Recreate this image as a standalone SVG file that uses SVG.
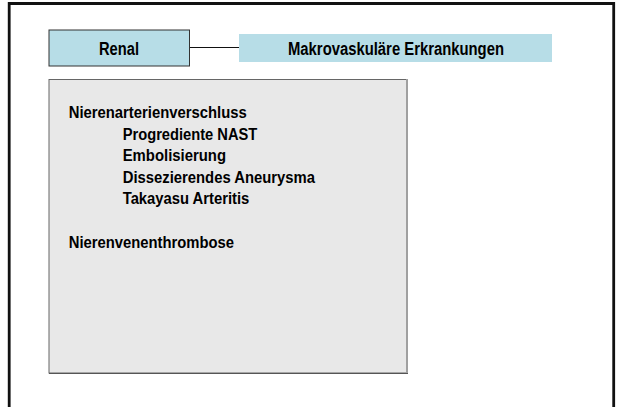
<svg xmlns="http://www.w3.org/2000/svg" width="619" height="407" viewBox="0 0 619 407">
<style>
.t{font-family:"Liberation Sans",Arial,sans-serif;font-weight:bold;fill:#000;}
.h{font-size:17.5px;}
.b{font-size:16px;}
.blue{fill:#b7dde7;}
</style>
<rect x="0" y="0" width="619" height="407" fill="#ffffff"/>
<g id="frame">
<path d="M9.2,410 V3.5 H613.7 V410" fill="none" stroke="#111" stroke-width="2.8"/>
</g>
<g id="connectors">
<line x1="190" y1="47.5" x2="239" y2="47.5" stroke="#111" stroke-width="1"/>
</g>
<g id="renal">
<rect class="blue" x="49" y="30" width="140.5" height="36" stroke="#333" stroke-width="1"/>
<text class="t h" x="119" y="55" text-anchor="middle" textLength="40" lengthAdjust="spacingAndGlyphs">Renal</text>
</g>
<g id="makro">
<rect class="blue" x="239" y="34" width="313" height="28"/>
<text class="t h" x="288" y="54.7" textLength="216" lengthAdjust="spacingAndGlyphs">Makrovaskuläre Erkrankungen</text>
</g>
<g id="liste">
<rect x="49" y="79.5" width="357.5" height="293.5" fill="#e8e8e8" stroke="#666" stroke-width="1"/>
<line x1="407" y1="79" x2="407" y2="373" stroke="#a0a0a0" stroke-width="2"/>
<line x1="49" y1="373.5" x2="408" y2="373.5" stroke="#555" stroke-width="1.2"/>
<text class="t b" x="68.7" y="118" textLength="178" lengthAdjust="spacingAndGlyphs">Nierenarterienverschluss</text>
<text class="t b" x="122.7" y="139.5" textLength="134.6" lengthAdjust="spacingAndGlyphs">Progrediente NAST</text>
<text class="t b" x="122.7" y="161" textLength="103.3" lengthAdjust="spacingAndGlyphs">Embolisierung</text>
<text class="t b" x="122.7" y="182.5" textLength="192.3" lengthAdjust="spacingAndGlyphs">Dissezierendes Aneurysma</text>
<text class="t b" x="122.7" y="204" textLength="126.6" lengthAdjust="spacingAndGlyphs">Takayasu Arteritis</text>
<text class="t b" x="68.7" y="248" textLength="165.3" lengthAdjust="spacingAndGlyphs">Nierenvenenthrombose</text>
</g>
</svg>
